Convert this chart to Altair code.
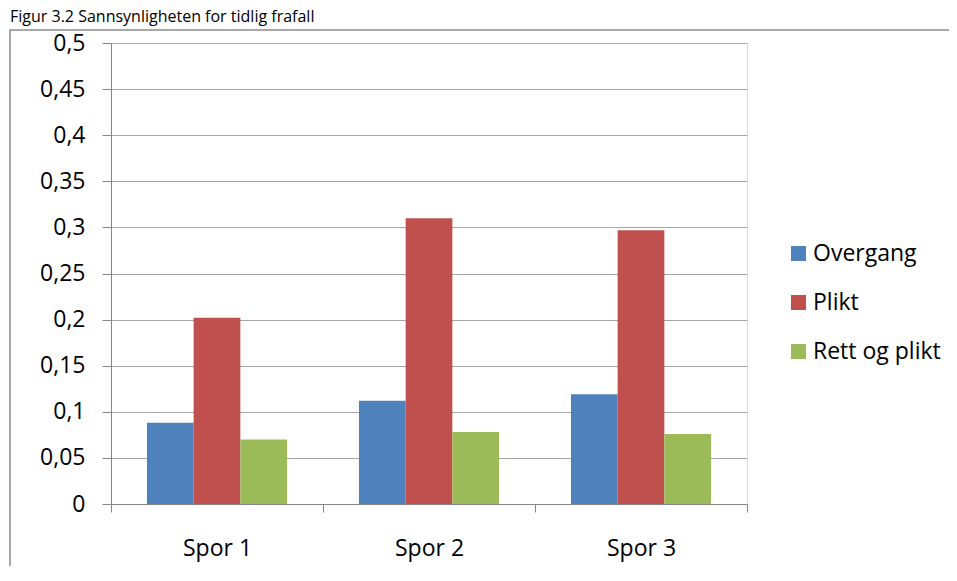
import altair as alt
import pandas as pd

categories = ["Spor 1", "Spor 2", "Spor 3"]
series = ["Overgang", "Plikt", "Rett og plikt"]
overgang = [0.088, 0.112, 0.119]
plikt = [0.202, 0.310, 0.297]
rett_og_plikt = [0.070, 0.078, 0.076]
colors = ["#4F81BD", "#C0504D", "#9BBB59"]
y_ticks = [0, 0.05, 0.1, 0.15, 0.2, 0.25, 0.3, 0.35, 0.4, 0.45, 0.5]
title_text = "Figur 3.2 Sannsynligheten for tidlig frafall"

rows = []
for s, vals in zip(series, [overgang, plikt, rett_og_plikt]):
    for c, v in zip(categories, vals):
        rows.append({"Spor": c, "Serie": s, "Verdi": v})
df = pd.DataFrame(rows)
tdf = pd.DataFrame({"t": [title_text]})

FONT = "Open Sans"
FS = 23

frame = alt.Chart(tdf).mark_rect(fillOpacity=0, stroke="#8c8c8c", strokeWidth=1.5).encode(
    x=alt.value(-101), x2=alt.value(1000), y=alt.value(-13), y2=alt.value(800)
)

title = alt.Chart(tdf).mark_text(
    align="left", baseline="alphabetic", font=FONT, fontSize=16, color="#000000"
).encode(text="t:N", x=alt.value(-101), y=alt.value(-21))

bars = alt.Chart(df).mark_bar().encode(
    x=alt.X("Spor:N", sort=categories, title=None,
            scale=alt.Scale(paddingInner=0, paddingOuter=0),
            axis=alt.Axis(labelAngle=0, tickBand="extent", tickSize=8, tickColor="#868686",
                          domainColor="#868686", labelFontSize=FS, labelFont=FONT,
                          labelColor="#000000", labelBaseline="middle", labelPadding=36,
                          grid=False)),
    xOffset=alt.XOffset("Serie:N", sort=series,
                        scale=alt.Scale(paddingInner=0, paddingOuter=0.77)),
    y=alt.Y("Verdi:Q", title=None,
            scale=alt.Scale(domain=[0, 0.5], nice=False),
            axis=alt.Axis(values=y_ticks, tickSize=9, tickColor="#868686",
                          domainColor="#868686", gridColor="#a6a6a6",
                          labelFontSize=FS, labelFont=FONT, labelColor="#000000",
                          labelPadding=17,
                          labelExpr="replace(format(datum.value, '.2~f'), '.', ',')")),
    color=alt.Color("Serie:N", sort=series,
                    scale=alt.Scale(domain=series, range=colors),
                    legend=alt.Legend(title=None, orient="none", legendX=676, legendY=199,
                                      symbolType="square", symbolSize=225,
                                      symbolStrokeWidth=0, labelFontSize=FS,
                                      labelFont=FONT, labelColor="#000000",
                                      labelOffset=3, rowPadding=25, padding=0)),
)

chart = alt.layer(frame, title, bars).properties(
    width=636, height=461,
    padding={"left": 103, "top": 35, "right": 202, "bottom": 62},
    autosize=alt.AutoSizeParams(type="none"),
).configure_view(stroke=None).configure(background="white")

chart.save("out.html", embed_options={"renderer": "svg", "actions": False})
